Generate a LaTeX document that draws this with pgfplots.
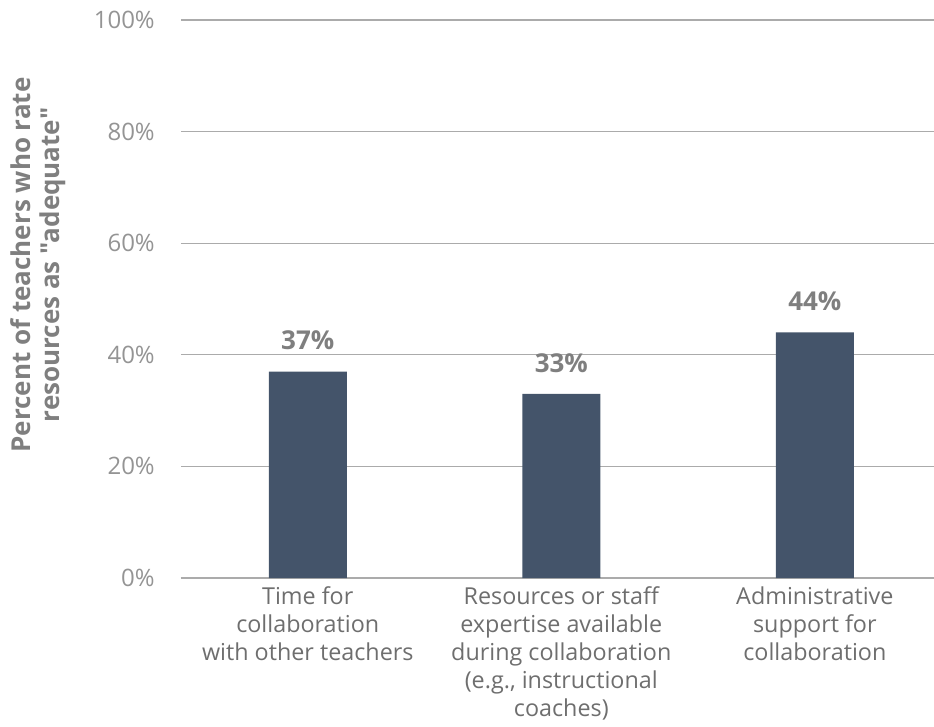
\documentclass[border=0pt]{standalone}
\usepackage{fontspec}
\setmainfont{Open Sans}
\newfontfamily\labfont{Open Sans}
\usepackage{pgfplots}
\pgfplotsset{compat=1.18}
\definecolor{barcol}{HTML}{44546A}
\definecolor{tickgray}{HTML}{949494}
\definecolor{labgray}{HTML}{7F7F7F}
\definecolor{gridgray}{HTML}{ABABAB}
\definecolor{catgray}{HTML}{6E6E6E}
\begin{document}
\begin{tikzpicture}
\begin{axis}[
  scale only axis,
  width=564.75pt, height=418.5pt,
  xmin=-0.5, xmax=2.47,
  ymin=0, ymax=100,
  /pgf/number format/assume math mode=true,
  ytick={0,20,40,60,80,100},
  yticklabels={0\%,20\%,40\%,60\%,80\%,100\%},
  xtick={0,1,2},
  xticklabels={{Time for\\collaboration\\with other teachers},{Resources or staff\\expertise available\\during collaboration\\(e.g., instructional\\coaches)},{Administrative\\support for\\collaboration}},
  xticklabel style={align=center, font=\fontsize{17.5pt}{21pt}\selectfont, text=catgray, anchor=north, inner sep=0pt, yshift=-6pt},
  yticklabel style={font=\fontsize{18pt}{20pt}\selectfont, text=tickgray, anchor=east, inner sep=0pt, xshift=-19.5pt},
  major tick length=0pt,
  axis y line*=left,
  y axis line style={draw=none},
  axis x line*=bottom,
  x axis line style={draw=gridgray, line width=0.9pt, -},
  ymajorgrids,
  grid style={draw=gridgray, line width=0.9pt},
  ylabel={Percent of teachers who rate\\resources as "adequate"},
  ylabel style={at={(axis description cs:-0.19,0.561)}, anchor=center, rotate=0, align=center, font=\labfont\bfseries\fontsize{19.5pt}{21.5pt}\selectfont, text=labgray},
  ybar,
  bar width=58.5pt,
  nodes near coords={\pgfmathprintnumber{\pgfplotspointmeta}\%},
  nodes near coords style={font=\bfseries\fontsize{19.5pt}{22pt}\selectfont, text=labgray, anchor=south, yshift=12.5pt},
  clip=false,
]
\addplot[fill=barcol, draw=none] coordinates {(0,37) (1,33) (2,44)};
\end{axis}
\pgfresetboundingbox
\useasboundingbox ([shift={(-135.75pt,-111pt)}]current axis.south west) rectangle ([shift={(564.75pt,433.5pt)}]current axis.south west);
\end{tikzpicture}
\end{document}
